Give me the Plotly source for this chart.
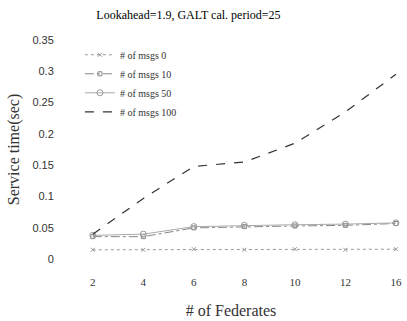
import plotly.graph_objects as go

federates = ["2", "4", "6", "8", "10", "12", "16"]
msgs0 = [0.015, 0.015, 0.016, 0.015, 0.016, 0.015, 0.016]
msgs10 = [0.036, 0.036, 0.050, 0.052, 0.053, 0.054, 0.057]
msgs50 = [0.038, 0.040, 0.052, 0.054, 0.055, 0.056, 0.058]
msgs100 = [0.040, 0.097, 0.148, 0.155, 0.185, 0.235, 0.295]
names = ["# of msgs 0", "# of msgs 10", "# of msgs 50", "# of msgs 100"]
yticks = [0, 0.05, 0.1, 0.15, 0.2, 0.25, 0.3, 0.35]
ylabels = ["0", "0.05", "0.1", "0.15", "0.2", "0.25", "0.3", "0.35"]

fig = go.Figure()
fig.add_trace(go.Scatter(x=federates, y=msgs0, name=names[0], mode="lines+markers",
                         line=dict(color="#999999", width=1, dash="dot"),
                         marker=dict(symbol="x-thin-open", size=4, color="#999999")))
fig.add_trace(go.Scatter(x=federates, y=msgs10, name=names[1], mode="lines+markers",
                         line=dict(color="#888888", width=1, dash="dashdot"),
                         marker=dict(symbol="square-open", size=4, color="#888888")))
fig.add_trace(go.Scatter(x=federates, y=msgs50, name=names[2], mode="lines+markers",
                         line=dict(color="#aaaaaa", width=1),
                         marker=dict(symbol="circle-open", size=6, color="#999999")))
fig.add_trace(go.Scatter(x=federates, y=msgs100, name=names[3], mode="lines",
                         line=dict(color="#333333", width=1.2, dash="dash")))

fig.update_layout(
    width=407, height=321,
    margin=dict(l=62, r=5, t=30, b=46),
    paper_bgcolor="white", plot_bgcolor="white",
    font=dict(family="Liberation Serif", size=10, color="#222222"),
    title=dict(text="Lookahead=1.9, GALT cal. period=25", x=0.463, xanchor="center",
               y=0.953, yanchor="middle", font=dict(size=12, family="Liberation Serif", color="#000000")),
    showlegend=True,
    legend=dict(x=0.053, y=0.957, xanchor="left", yanchor="top", bgcolor="rgba(0,0,0,0)",
                font=dict(size=10, family="Liberation Serif", color="#333333"),
                tracegroupgap=0, itemwidth=30),
)
fig.update_xaxes(type="category", range=[-0.61, 6.08], showgrid=False, zeroline=False,
                 showline=False, ticks="outside", ticklen=3, tickcolor="white",
                 tickfont=dict(size=11, family="Liberation Serif", color="#333333"),
                 title=dict(text="# of Federates", font=dict(size=16, family="Liberation Serif", color="#333333"),
                            standoff=17))
fig.update_yaxes(range=[-0.0156, 0.3656], tickvals=yticks, ticktext=ylabels, showgrid=False,
                 zeroline=False, showline=False, ticks="outside", ticklen=5, tickcolor="white",
                 tickfont=dict(size=11, family="Liberation Sans", color="#333333"),
                 title=dict(text="Service time(sec)", font=dict(size=16, family="Liberation Serif", color="#333333"),
                            standoff=8))

fig.write_html("out.html", config={"displayModeBar": False},
               post_script="document.body.style.margin='0';")
